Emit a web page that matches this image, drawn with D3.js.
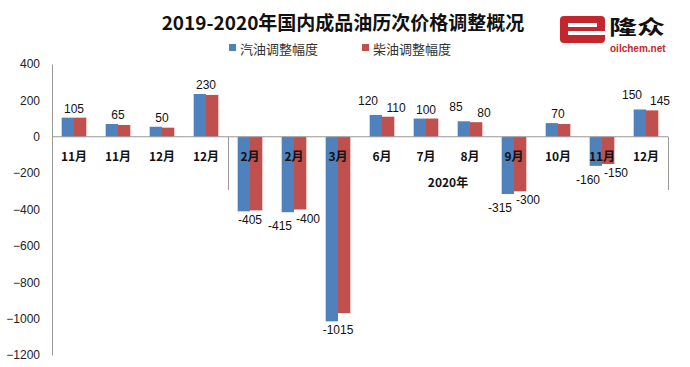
<!DOCTYPE html>
<html><head><meta charset="utf-8">
<script src="https://cdn.jsdelivr.net/npm/d3@7"></script>
<style>body{margin:0;background:#fff}svg{display:block}</style>
</head><body><svg id="c" width="690" height="367"></svg>
<script>
const categories = ["11月","11月","12月","12月","2月","2月","3月","6月","7月","8月","9月","10月","11月","12月"];
const gasoline = [105, 70, 55, 235, -410, -415, -1015, 120, 100, 85, -315, 75, -160, 150];
const diesel   = [105, 65, 50, 230, -405, -400, -970, 110, 100, 80, -300, 70, -150, 145];
const gasolineLabels = [105, 65, 50, 230, -405, -415, -1015, 120, 100, 85, -315, 70, -160, 150];
const dieselLabels   = [null, null, null, null, null, -400, null, 110, null, 80, -300, null, -150, 145];
const yTicks = [400, 200, 0, -200, -400, -600, -800, -1000, -1200];
const seriesNames = ["汽油调整幅度", "柴油调整幅度"];
const yearLabel = "2020年";
const yearStartIndex = 4;
const title = "2019-2020年国内成品油历次价格调整概况";

const colors = ["#4F81BD", "#C0504D"];
const svg = d3.select("#c");
const CJK = "'Noto Sans CJK SC','Noto Sans',sans-serif";
const NUM = "'Liberation Sans','Open Sans',sans-serif";

const x0 = d3.scaleBand().domain(d3.range(categories.length)).range([52, 668]).paddingInner(0.44).paddingOuter(0.22);
const x1 = d3.scaleBand().domain([0, 1]).range([0, x0.bandwidth()]);
const y = d3.scaleLinear().domain([-1200, 400]).range([355, 64]);

// title
svg.append("text").attr("x", 343).attr("y", 21).attr("text-anchor", "middle")
  .attr("dominant-baseline", "central").attr("font-family", CJK).attr("font-weight", "bold")
  .attr("font-size", 19).attr("fill", "#111").text(title);

// legend
const legX = [229, 362];
seriesNames.forEach((n, i) => {
  svg.append("rect").attr("x", legX[i]).attr("y", 44).attr("width", 7).attr("height", 7).attr("fill", colors[i]);
  svg.append("text").attr("x", legX[i] + 11).attr("y", 48).attr("dominant-baseline", "central")
    .attr("font-family", CJK).attr("font-size", 13).attr("fill", "#333").text(n);
});

// logo
const logo = svg.append("g");
logo.append("rect").attr("x", 560).attr("y", 16).attr("width", 45).attr("height", 27).attr("rx", 4).attr("fill", "#c4262e");
logo.append("rect").attr("x", 568).attr("y", 23).attr("width", 29).attr("height", 4).attr("fill", "#fff");
logo.append("rect").attr("x", 568).attr("y", 31).attr("width", 37).attr("height", 4).attr("fill", "#fff");
logo.append("g").attr("transform", "translate(609,35) scale(1.4,1)")
  .append("text").attr("x", 0).attr("y", 0).attr("font-family", CJK).attr("font-weight", "bold")
  .attr("font-size", 20).attr("fill", "#111").text("隆众");
logo.append("text").attr("x", 610).attr("y", 52).attr("font-family", NUM).attr("font-weight", "bold")
  .attr("font-size", 10).attr("fill", "#c4262e").text("oilchem.net");

// y axis
const yAxis = d3.axisLeft(y).tickValues(yTicks).tickSize(0).tickPadding(12).tickFormat(d3.format("d"));
const gy = svg.append("g").attr("transform", "translate(52,0)").call(yAxis);
gy.select(".domain").attr("stroke", "#999").attr("stroke-width", 1);
gy.selectAll("text").attr("font-family", NUM).attr("font-size", 12).attr("fill", "#222");

// bars
const series = [gasoline, diesel];
const g = svg.append("g");
series.forEach((vals, s) => {
  g.selectAll(null).data(vals).enter().append("rect")
    .attr("x", (d, i) => x0(i) + x1(s))
    .attr("width", x1.bandwidth())
    .attr("y", d => y(Math.max(0, d)))
    .attr("height", d => Math.abs(y(d) - y(0)))
    .attr("fill", colors[s]);
});

// zero line & category separators
svg.append("line").attr("x1", 52).attr("x2", 668).attr("y1", y(0)).attr("y2", y(0)).attr("stroke", "#999");
[yearStartIndex, categories.length].forEach(i => {
  const xx = Math.round(x0.step() * i + 52) + 0.5;
  svg.append("line").attr("x1", xx).attr("x2", xx).attr("y1", y(0)).attr("y2", 190).attr("stroke", "#999");
});

// category labels
svg.append("g").selectAll("text").data(categories).enter().append("text")
  .attr("x", (d, i) => x0(i) + x0.bandwidth() / 2).attr("y", 155)
  .attr("text-anchor", "middle").attr("dominant-baseline", "central")
  .attr("font-family", CJK).attr("font-weight", "bold").attr("font-size", 12).attr("fill", "#111").text(d => d);

// year label
svg.append("text").attr("x", (x0.step() * yearStartIndex + 52 + 668) / 2).attr("y", 181)
  .attr("text-anchor", "middle").attr("dominant-baseline", "central")
  .attr("font-family", CJK).attr("font-weight", "bold").attr("font-size", 12).attr("fill", "#111").text(yearLabel);

// data labels
const lab = svg.append("g").attr("font-family", NUM).attr("font-size", 12).attr("fill", "#111");
categories.forEach((c, i) => {
  const cx = x0(i) + x0.bandwidth() / 2;
  const gl = gasolineLabels[i], dl = dieselLabels[i];
  const place = (v, barVal, px, gap) => {
    const yy = barVal >= 0 ? y(barVal) - gap : y(barVal) + gap;
    lab.append("text").attr("x", px).attr("y", yy).attr("text-anchor", "middle")
      .attr("dominant-baseline", "central").text(v);
  };
  if (dl === null) {
    const ext = gl >= 0 ? Math.max(gasoline[i], diesel[i]) : Math.min(gasoline[i], diesel[i]);
    place(gl, ext, cx, 9);
  } else {
    place(gl, gasoline[i], cx - 14, 14);
    place(dl, diesel[i], cx + 14, 9);
  }
});
</script></body></html>
